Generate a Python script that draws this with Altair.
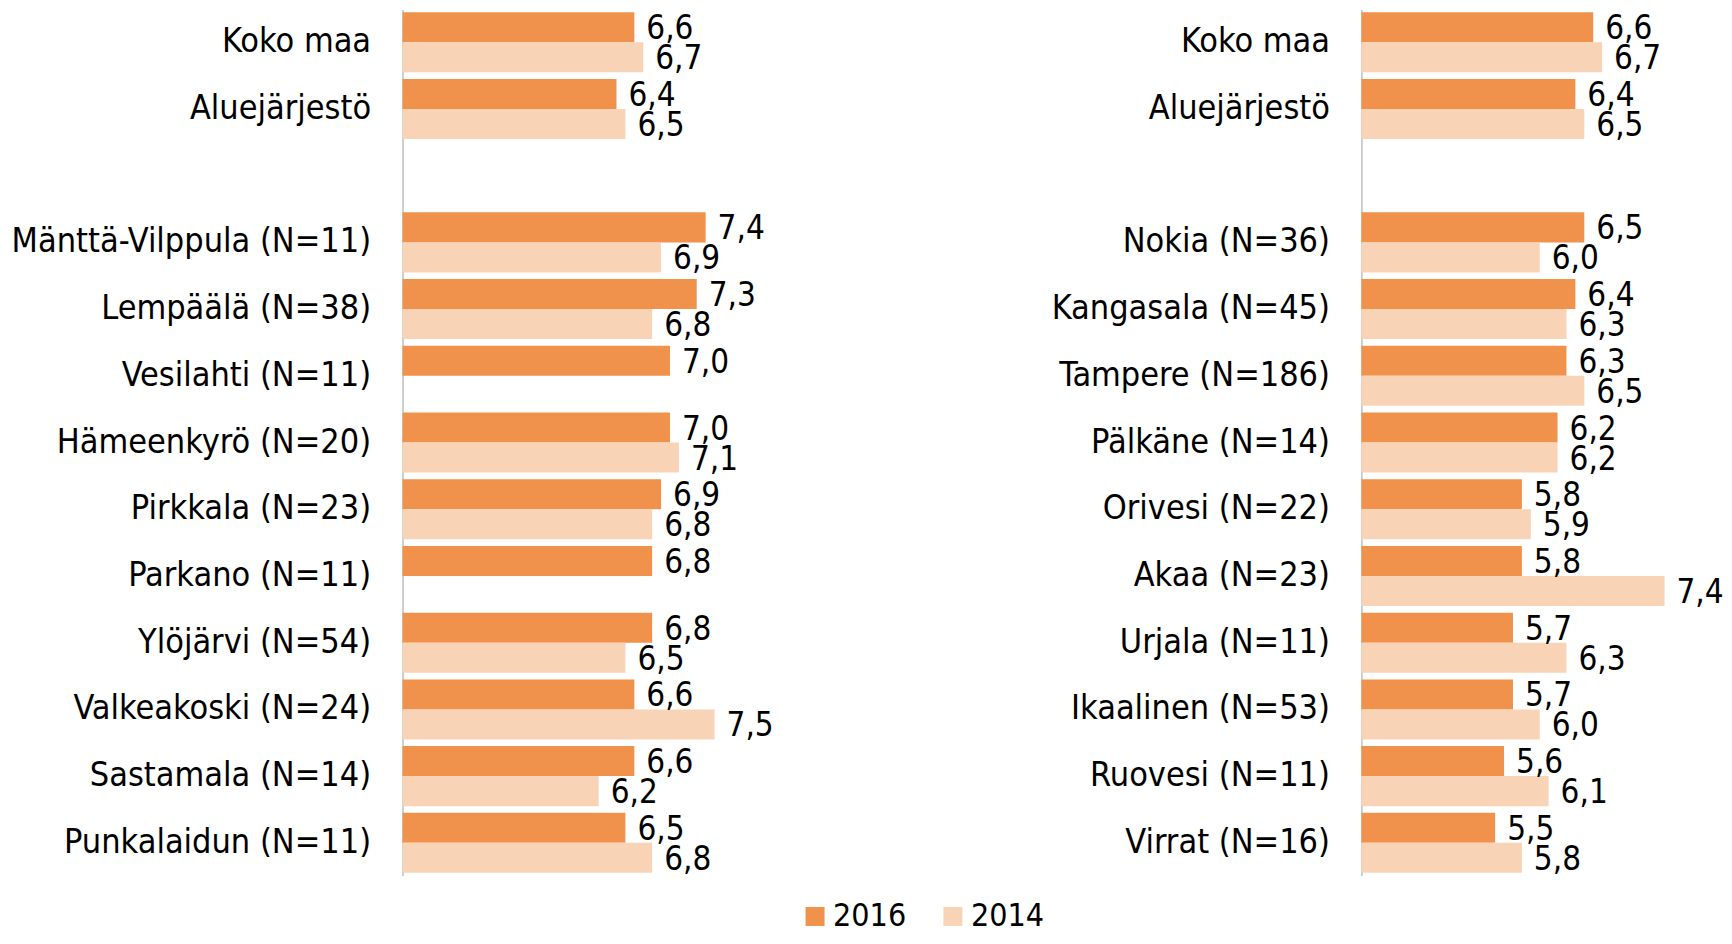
import altair as alt
import pandas as pd

FONT = "DejaVu Sans Condensed"
C16 = "#F0924B"
C14 = "#F8D3B6"

top_cats = ["Koko maa", "Aluejärjestö"]
top_2016 = [6.6, 6.4]
top_2014 = [6.7, 6.5]

left_cats = ["Mänttä-Vilppula (N=11)", "Lempäälä (N=38)", "Vesilahti (N=11)",
             "Hämeenkyrö (N=20)", "Pirkkala (N=23)", "Parkano (N=11)",
             "Ylöjärvi (N=54)", "Valkeakoski (N=24)", "Sastamala (N=14)",
             "Punkalaidun (N=11)"]
left_2016 = [7.4, 7.3, 7.0, 7.0, 6.9, 6.8, 6.8, 6.6, 6.6, 6.5]
left_2014 = [6.9, 6.8, None, 7.1, 6.8, None, 6.5, 7.5, 6.2, 6.8]

right_cats = ["Nokia (N=36)", "Kangasala (N=45)", "Tampere (N=186)",
              "Pälkäne (N=14)", "Orivesi (N=22)", "Akaa (N=23)",
              "Urjala (N=11)", "Ikaalinen (N=53)", "Ruovesi (N=11)",
              "Virrat (N=16)"]
right_2016 = [6.5, 6.4, 6.3, 6.2, 5.8, 5.8, 5.7, 5.7, 5.6, 5.5]
right_2014 = [6.0, 6.3, 6.5, 6.2, 5.9, 7.4, 6.3, 6.0, 6.1, 5.8]

years = ["2016", "2014"]


def make_df(cats, v16, v14):
    rows = []
    for c, a, b in zip(cats, v16, v14):
        for y, v in (("2016", a), ("2014", b)):
            if v is not None:
                rows.append({"cat": c, "year": y, "value": v,
                             "label": f"{v:.1f}".replace(".", ",")})
    return pd.DataFrame(rows)


def panel(cats, v16, v14, extent):
    df = make_df(top_cats + cats, top_2016 + v16, top_2014 + v14)
    domain = top_cats + [" "] + cats
    y = alt.Y("cat:N", scale=alt.Scale(domain=domain, paddingInner=0.1, paddingOuter=0.04),
              axis=alt.Axis(title=None, labelFontSize=34, labelFont=FONT, labelColor="black",
                            labelPadding=32, ticks=False, domainColor="#BFBFBF", domainWidth=1.5,
                            labelLimit=600, minExtent=extent, maxExtent=extent, grid=False))
    yoff = alt.YOffset("year:N", sort=years, scale=alt.Scale(domain=years, paddingInner=0, paddingOuter=0))
    x = alt.X("value:Q", scale=alt.Scale(domain=[4, 8], zero=False, nice=False), axis=None)
    base = alt.Chart(df).encode(y=y, yOffset=yoff)
    bars = base.mark_bar().encode(
        x=x, x2=alt.datum(4),
        color=alt.Color("year:N", sort=years,
                        scale=alt.Scale(domain=years, range=[C16, C14]),
                        legend=alt.Legend(title=None, orient="none", legendX=397, legendY=892,
                                          direction="horizontal", symbolType="square",
                                          symbolSize=361, symbolStrokeWidth=0,
                                          labelFontSize=32, labelFont=FONT, labelColor="black",
                                          columnPadding=30, labelOffset=2, symbolOffset=0,
                                          padding=0)))
    text = base.mark_text(align="left", baseline="middle", dx=12, dy=2, fontSize=33,
                          font=FONT, color="black").encode(x=x, text="label:N")
    return (bars + text).properties(width=357, height=867)


left = panel(left_cats, left_2016, left_2014, 395)
right = panel(right_cats, right_2016, right_2014, 299)

chart = alt.hconcat(left, right, spacing=603, bounds="flush").properties(
    padding={"left": 0, "top": 1, "right": 0, "bottom": 0}
).configure_view(stroke=None)

chart.save("out.html", embed_options={"renderer": "svg", "actions": False})
